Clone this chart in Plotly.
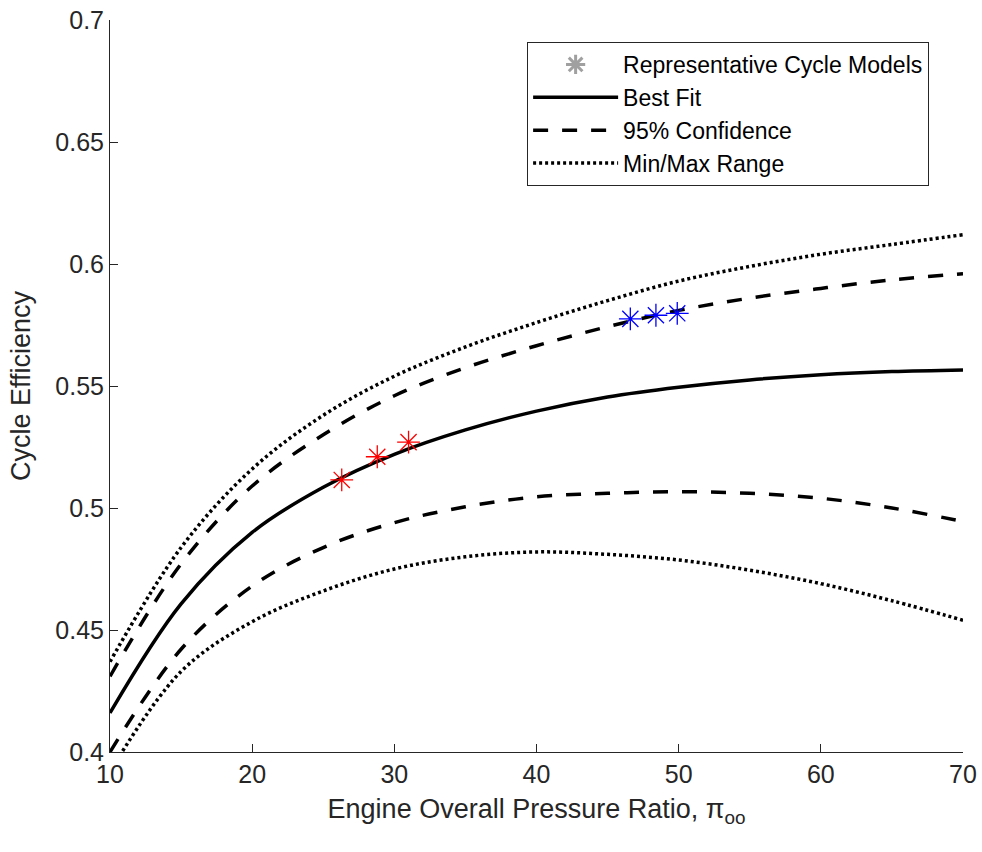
import plotly.graph_objects as go

# engine overall pressure ratio grid
opr = [10, 15, 20, 25, 30, 35, 40, 45, 50, 55, 60, 65, 70]

best_fit = [0.416, 0.4607, 0.490, 0.5085, 0.522, 0.532, 0.5397, 0.5455, 0.5495,
            0.5525, 0.5546, 0.5559, 0.5566]
conf_hi = [0.431, 0.4771, 0.509, 0.530, 0.546, 0.5575, 0.5665, 0.5743, 0.581,
           0.586, 0.590, 0.5935, 0.596]
conf_lo = [0.400, 0.4421, 0.468, 0.4838, 0.494, 0.5005, 0.5046, 0.506, 0.5067,
           0.506, 0.504, 0.500, 0.4945]
range_hi = [0.437, 0.4838, 0.516, 0.538, 0.554, 0.566, 0.576, 0.585, 0.593,
            0.599, 0.604, 0.608, 0.612]
range_lo = [0.392, 0.433, 0.4534, 0.466, 0.475, 0.480, 0.482, 0.481, 0.4787,
            0.4745, 0.469, 0.462, 0.454]

# representative cycle models
red_x = [26.3, 28.8, 31.0]
red_y = [0.5115, 0.521, 0.527]
blue_x = [46.6, 48.4, 49.9]
blue_y = [0.5775, 0.579, 0.5798]

FONT = "Liberation Sans, Arial, sans-serif"
TXT = "#262626"

fig = go.Figure()

# legend-only gray asterisk
fig.add_trace(go.Scatter(x=[None], y=[None], mode="markers", name="Representative Cycle Models",
                         marker=dict(symbol="asterisk-open", size=19, color="#a0a0a0",
                                     line=dict(color="#a0a0a0", width=3))))

curve = dict(mode="lines", line_shape="spline")
fig.add_trace(go.Scatter(x=opr, y=best_fit, name="Best Fit",
                         line=dict(color="black", width=3.5), **curve))
fig.add_trace(go.Scatter(x=opr, y=conf_hi, name="95% Confidence",
                         line=dict(color="black", width=3.5, dash="15px,14px"), **curve))
fig.add_trace(go.Scatter(x=opr, y=range_hi, name="Min/Max Range",
                         line=dict(color="black", width=3.5, dash="3px,3px"), **curve))
fig.add_trace(go.Scatter(x=opr, y=conf_lo, showlegend=False,
                         line=dict(color="black", width=3.5, dash="15px,14px"), **curve))
fig.add_trace(go.Scatter(x=opr, y=range_lo, showlegend=False,
                         line=dict(color="black", width=3.5, dash="3px,3px"), **curve))

fig.add_trace(go.Scatter(x=red_x, y=red_y, mode="markers", showlegend=False,
                         marker=dict(symbol="asterisk-open", size=19, color="red",
                                     line=dict(color="red", width=1.3))))
fig.add_trace(go.Scatter(x=blue_x, y=blue_y, mode="markers", showlegend=False,
                         marker=dict(symbol="asterisk-open", size=19, color="blue",
                                     line=dict(color="blue", width=1.3))))

fig.update_layout(
    width=982, height=852,
    margin=dict(l=110, r=19, t=20, b=100, autoexpand=False),
    paper_bgcolor="white", plot_bgcolor="white",
    font=dict(family=FONT, size=25, color=TXT),
    legend=dict(x=0.489, y=0.97, xanchor="left", yanchor="top",
                bgcolor="white", bordercolor=TXT, borderwidth=1,
                font=dict(size=23, color="black"), itemwidth=85,
                traceorder="normal"),
    xaxis=dict(range=[10, 70], dtick=10, showline=True, linecolor=TXT, linewidth=1,
               ticks="inside", ticklen=8, tickcolor=TXT, showgrid=False, zeroline=False,
               automargin=False, tickfont=dict(size=25, color=TXT), ticklabeloverflow="allow",
               title=dict(text="Engine Overall Pressure Ratio, π<sub>oo</sub>",
                          font=dict(size=27, color=TXT), standoff=12)),
    yaxis=dict(range=[0.4, 0.7], dtick=0.05, showline=True, linecolor=TXT, linewidth=1,
               ticks="inside", ticklen=8, tickcolor=TXT, showgrid=False, zeroline=False,
               automargin=False, tickfont=dict(size=25, color=TXT), ticklabeloverflow="allow",
               title=dict(text="Cycle Efficiency", font=dict(size=27, color=TXT), standoff=16)),
)

# drop the default 8px page margin so the figure fills the window exactly
fig.write_html("out.html", config={"displayModeBar": False},
               post_script="document.body.style.margin='0';")
